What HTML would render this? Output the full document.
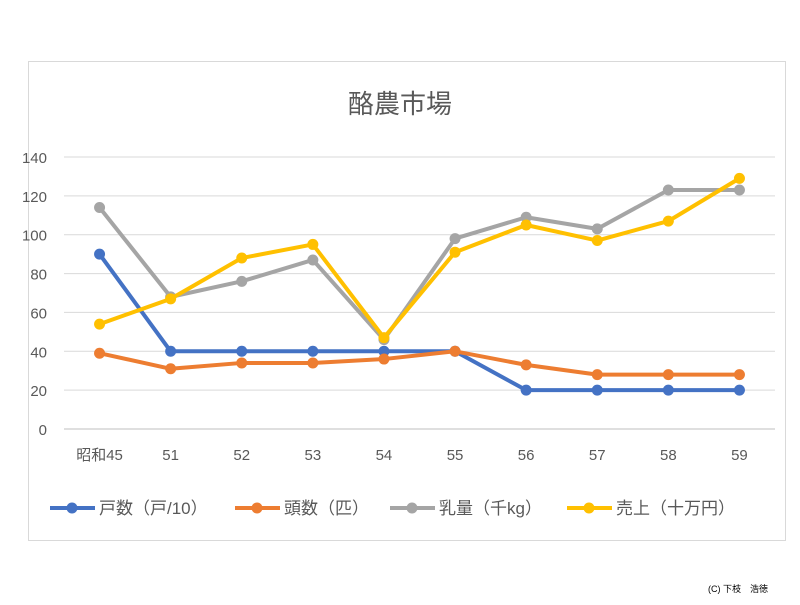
<!DOCTYPE html>
<html><head><meta charset="utf-8"><style>
body{margin:0;background:#fff;width:800px;height:600px;overflow:hidden;font-family:"Liberation Sans","Noto Sans CJK JP",sans-serif}
</style></head><body>
<svg width="800" height="600" font-family="Liberation Sans, Noto Sans CJK JP, sans-serif">
<rect x="28.5" y="61.5" width="757" height="479" fill="#fff" stroke="#d9d9d9"/>
<text x="400" y="113" text-anchor="middle" font-size="26" fill="#595959">酪農市場</text>
<g id="grid"></g><g id="series"></g>
<g id="legend"></g>
<text x="768" y="592" text-anchor="end" font-size="9" fill="#000">(C) 下枝　浩徳</text>
</svg>
<script>
const categories=["昭和45","51","52","53","54","55","56","57","58","59"];
const yTicks=[0,20,40,60,80,100,120,140];
const seriesNames=["戸数（戸/10）","頭数（匹）","乳量（千kg）","売上（十万円）"];
const households=[90,40,40,40,40,40,20,20,20,20];
const heads=[39,31,34,34,36,40,33,28,28,28];
const milk=[114,68,76,87,46,98,109,103,123,123];
const sales=[54,67,88,95,47,91,105,97,107,129];
const colors=["#4472c4","#ed7d31","#a5a5a5","#ffc000"];
const NS="http://www.w3.org/2000/svg";
const x0=64,x1=775,y0=429,y1=157;
const xs=i=>x0+(x1-x0)/categories.length*(i+0.5);
const ys=v=>y0-(v/140)*(y0-y1);
function mk(t,a,p){const e=document.createElementNS(NS,t);for(const k in a)e.setAttribute(k,a[k]);p.appendChild(e);return e;}
const g=document.getElementById('grid');
yTicks.forEach(v=>{
 const l=mk('line',{x1:x0,x2:x1,y1:ys(v),y2:ys(v),stroke:v===0?'#bfbfbf':'#d9d9d9'},g);
 
 
 const t=mk('text',{x:47,y:ys(v)+6,'text-anchor':'end','font-size':15,fill:'#595959'},g);
 t.textContent=v;
 
 
});
categories.forEach((c,i)=>{
 const t=mk('text',{x:xs(i),y:460,'text-anchor':'middle','font-size':15,fill:'#595959'},g);
 t.textContent=c;
 
 
});
const s=document.getElementById('series');
[households,heads,milk,sales].forEach((d,k)=>{
 const pl=mk('polyline',{points:d.map((v,i)=>xs(i)+','+ys(v)).join(' '),fill:'none',stroke:colors[k],'stroke-width':4,'stroke-linejoin':'round'},s);
 
 
 d.forEach((v,i)=>{
  const c=mk('circle',{cx:xs(i),cy:ys(v),r:5.5,fill:colors[k]},s);
  
  
 });
});
const lg=document.getElementById('legend');
const lx=[50,235,390,567];
seriesNames.forEach((n,k)=>{
 const x=lx[k];
 const l=mk('line',{x1:x,x2:x+45,y1:508,y2:508,stroke:colors[k],'stroke-width':4},lg);
 
 
 const c=mk('circle',{cx:x+22,cy:508,r:5.5,fill:colors[k]},lg);
 
 
 const t=mk('text',{x:x+49,y:514,'font-size':17,fill:'#595959'},lg);
 t.textContent=n;
 
 
});
</script>
</body></html>
